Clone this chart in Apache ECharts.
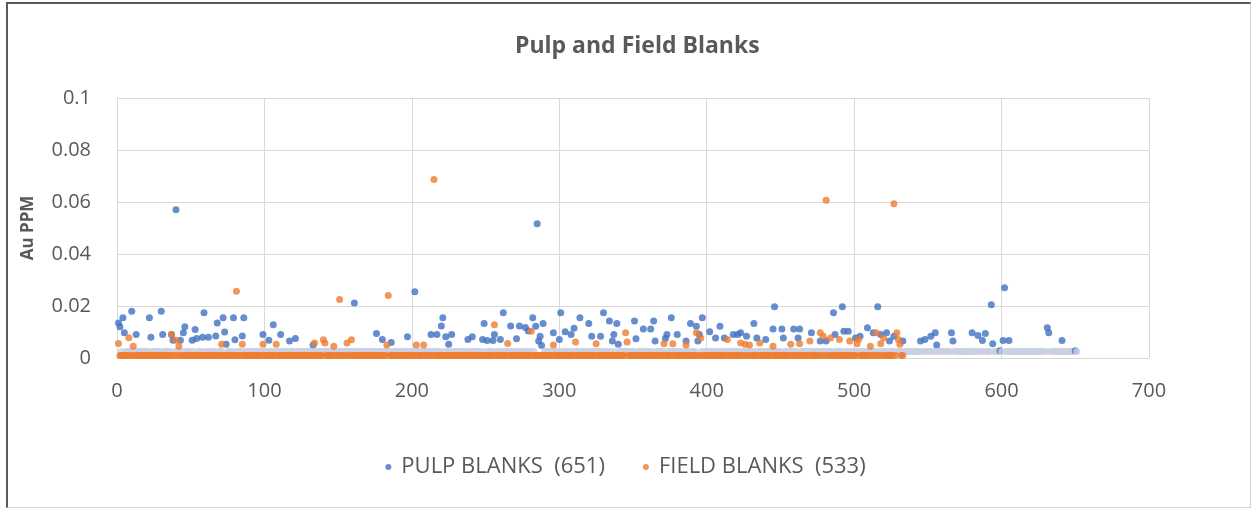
<!DOCTYPE html>
<html>
<head>
<meta charset="utf-8">
<script src="https://cdn.jsdelivr.net/npm/echarts@6/dist/echarts.min.js"></script>
<style>
  html, body { margin: 0; padding: 0; background: #ffffff; }
  #chart { position: absolute; left: 0; top: 0; width: 1251px; height: 508px; }
  #frame {
    position: absolute; left: 6px; top: 2px; width: 1242px; height: 503px;
    border-left: 2px solid #5a5a5a; border-top: 2px solid #5a5a5a;
    border-right: 1px solid #d4d4d4; border-bottom: 1px solid #d4d4d4;
    pointer-events: none;
  }
</style>
</head>
<body>
<div id="chart"></div>
<div id="frame"></div>
<script>
// Au assays (ppm) of pulp blanks, in submission order (sample 1..651)
const pulpAu = [
  .0135,.012,.0025,.0155,.0097,.0025,.0025,.0025,.0025,.018,.0025,.0025,.009,.0025,.0025,.0025,.0025,.0025,.0025,.0025,.0025,.0155,.008,.0025,.0025,
  .0025,.0025,.0025,.0025,.018,.009,.0025,.0025,.0025,.0025,.0025,.009,.0068,.0025,.057,.0025,.0025,.0068,.0025,.0097,.012,.0025,.0025,.0025,.0025,
  .0068,.0025,.011,.0075,.0025,.0025,.0025,.008,.0174,.0025,.0025,.008,.0025,.0025,.0025,.0025,.0085,.0135,.0025,.0025,.0025,.0155,.010,.0053,.0025,
  .0025,.0025,.0025,.0155,.007,.0025,.0025,.0025,.0025,.0085,.0155,.0025,.0025,.0025,.0025,.0025,.0025,.0025,.0025,.0025,.0025,.0025,.0025,.009,.0025,
  .0025,.0025,.0068,.0025,.0025,.0128,.0025,.0025,.0025,.0025,.009,.0025,.0025,.0025,.0025,.0025,.0065,.0025,.0025,.0025,.0075,.0025,.0025,.0025,.0025,
  .0025,.0025,.0025,.0025,.0025,.0025,.0025,.005,.0025,.0025,.0025,.0025,.0025,.0025,.0025,.0025,.0025,.0025,.0025,.0025,.0025,.0025,.0025,.0025,.0025,
  .0025,.0025,.0025,.0025,.0025,.0025,.0025,.0025,.0025,.0025,.0212,.0025,.0025,.0025,.0025,.0025,.0025,.0025,.0025,.0025,.0025,.0025,.0025,.0025,.0025,
  .0094,.0025,.0025,.0025,.0071,.0025,.0025,.0025,.0025,.0025,.006,.0025,.0025,.0025,.0025,.0025,.0025,.0025,.0025,.0025,.0025,.0082,.0025,.0025,.0025,
  .0025,.0255,.0025,.0025,.0025,.0025,.0025,.0025,.0025,.0025,.0025,.0025,.009,.0025,.0025,.0025,.009,.0025,.0025,.0123,.0155,.0025,.0082,.0025,.0053,
  .0025,.009,.0025,.0025,.0025,.0025,.0025,.0025,.0025,.0025,.0025,.0025,.0071,.0025,.0025,.0082,.0025,.0025,.0025,.0025,.0025,.0025,.0071,.0133,.0025,
  .0067,.0025,.0025,.0025,.0067,.009,.0025,.0025,.0025,.0071,.0025,.0174,.0025,.0025,.0025,.0025,.0123,.0025,.0025,.0025,.0074,.0025,.0123,.0025,.0025,
  .0025,.0117,.0025,.0104,.0025,.0025,.0155,.0025,.0122,.0516,.0065,.0084,.0048,.0133,.0025,.0025,.0025,.0025,.0025,.0025,.0097,.0025,.0025,.0025,.0071,
  .0174,.0025,.0025,.0101,.0025,.0025,.0025,.009,.0025,.0114,.0025,.0025,.0025,.0155,.0025,.0025,.0025,.0025,.0025,.0133,.0025,.0084,.0025,.0025,.0025,
  .0025,.0025,.0084,.0025,.0174,.0025,.0025,.0025,.0142,.0025,.0065,.009,.0025,.0133,.0053,.0025,.0025,.0025,.0025,.0025,.0025,.0025,.0025,.0025,.0025,
  .0142,.0074,.0025,.0025,.0025,.0025,.0112,.0025,.0025,.0025,.0025,.0112,.0025,.0142,.0065,.0025,.0025,.0025,.0025,.0025,.0025,.0075,.009,.0025,.0025,
  .0155,.0025,.0025,.0025,.009,.0025,.0025,.0025,.0025,.0025,.0065,.0025,.0025,.0133,.0025,.0025,.0025,.0122,.0065,.009,.0025,.0155,.0025,.0025,.0025,
  .0025,.0101,.0025,.0025,.0025,.0077,.0025,.0025,.0122,.0025,.0025,.0077,.0025,.0025,.0025,.0025,.0025,.009,.0025,.0025,.009,.0025,.0097,.0025,.0025,
  .0025,.0084,.0025,.0025,.0025,.0025,.0133,.0025,.0077,.0025,.0025,.0025,.0025,.0025,.0071,.0025,.0025,.0025,.0025,.0112,.0197,.0025,.0025,.0025,.0025,
  .0112,.0077,.0025,.0025,.0025,.0025,.0025,.0025,.0112,.0025,.0025,.0077,.0112,.0025,.0025,.0025,.0025,.0025,.0025,.0025,.0097,.0025,.0025,.0025,.0025,
  .0025,.0065,.0025,.0025,.0025,.0065,.0025,.0025,.0025,.0025,.0174,.009,.0025,.0025,.0025,.0025,.0197,.0103,.0025,.0025,.0103,.0025,.0025,.0025,.0025,
  .0077,.0025,.0025,.0084,.0025,.0025,.0025,.0025,.0116,.0025,.0025,.0025,.0097,.0025,.0025,.0197,.0025,.009,.0025,.0025,.0025,.0097,.0025,.0065,.0025,
  .0025,.0084,.0025,.0025,.0025,.0025,.0025,.0065,.0025,.0025,.0025,.0025,.0025,.0025,.0025,.0025,.0025,.0025,.0025,.0065,.0025,.0025,.0071,.0025,.0025,
  .0025,.0084,.0025,.0025,.0097,.005,.0025,.0025,.0025,.0025,.0025,.0025,.0025,.0025,.0025,.0097,.0065,.0025,.0025,.0025,.0025,.0025,.0025,.0025,.0025,
  .0025,.0025,.0025,.0025,.0097,.0025,.0025,.0025,.0087,.0025,.0025,.0067,.0025,.0094,.0025,.0025,.0025,.0205,.0055,.0025,.0025,.0025,.0025,.0028,.0025,
  .0067,.027,.0025,.0025,.0067,.0025,.0025,.0025,.0025,.0025,.0025,.0025,.0025,.0025,.0025,.0025,.0025,.0025,.0025,.0025,.0025,.0025,.0025,.0025,.0025,
  .0025,.0025,.0025,.0025,.0025,.0116,.0097,.0025,.0025,.0025,.0025,.0025,.0025,.0025,.0025,.0067,.0025,.0025,.0025,.0025,.0025,.0025,.0025,.0025,.0028,
  .0025
];

// Au assays (ppm) of field blanks, in submission order (sample 1..533)
const fieldAu = [
  .0056,.001,.001,.001,.001,.001,.001,.0078,.001,.001,.0045,.001,.001,.001,.001,.001,.001,.001,.001,.001,.001,.001,.001,.001,.001,
  .001,.001,.001,.001,.001,.001,.001,.001,.001,.001,.001,.009,.001,.001,.0068,.001,.0045,.001,.001,.001,.001,.001,.001,.001,.001,
  .001,.001,.001,.001,.001,.001,.001,.001,.001,.001,.001,.001,.001,.001,.001,.001,.001,.001,.001,.001,.0053,.001,.001,.001,.001,
  .001,.001,.001,.001,.001,.0257,.001,.001,.001,.0053,.001,.001,.001,.001,.001,.001,.001,.001,.001,.001,.001,.001,.001,.0053,.001,
  .001,.001,.001,.001,.001,.001,.001,.0053,.001,.001,.001,.001,.001,.001,.001,.001,.001,.001,.001,.001,.001,.001,.001,.001,.001,
  .001,.001,.001,.001,.001,.001,.001,.001,.0058,.001,.001,.001,.001,.001,.007,.0058,.001,.001,.001,.001,.001,.0045,.001,.001,.001,
  .0225,.001,.001,.001,.001,.0058,.001,.001,.007,.001,.001,.001,.001,.001,.001,.001,.001,.001,.001,.001,.001,.001,.001,.001,.001,
  .001,.001,.001,.001,.001,.001,.001,.005,.024,.001,.001,.001,.001,.001,.001,.001,.001,.001,.001,.001,.001,.001,.001,.001,.001,
  .001,.001,.005,.001,.001,.001,.001,.005,.001,.001,.001,.001,.001,.001,.0687,.001,.001,.001,.001,.001,.001,.001,.001,.001,.001,
  .001,.001,.001,.001,.001,.001,.001,.001,.001,.001,.001,.001,.001,.001,.001,.001,.001,.001,.001,.001,.001,.001,.001,.001,.001,
  .001,.001,.001,.001,.001,.0128,.001,.001,.001,.001,.001,.001,.001,.001,.0056,.001,.001,.001,.001,.001,.001,.001,.001,.001,.001,
  .001,.001,.001,.001,.001,.0103,.001,.001,.001,.001,.001,.001,.001,.001,.001,.001,.001,.001,.001,.001,.005,.001,.001,.001,.001,
  .001,.001,.001,.001,.001,.001,.001,.001,.001,.001,.0062,.001,.001,.001,.001,.001,.001,.001,.001,.001,.001,.001,.001,.001,.0055,
  .001,.001,.001,.001,.001,.001,.001,.001,.001,.001,.001,.001,.001,.001,.001,.001,.001,.001,.001,.0097,.0062,.001,.001,.001,.001,
  .001,.001,.001,.001,.001,.001,.001,.001,.001,.001,.001,.001,.001,.001,.001,.001,.001,.001,.001,.001,.0055,.001,.001,.001,.001,
  .001,.0055,.001,.001,.001,.001,.001,.001,.001,.001,.005,.001,.001,.001,.001,.001,.001,.0097,.001,.001,.0077,.001,.001,.001,.001,
  .001,.001,.001,.001,.001,.001,.001,.001,.001,.001,.001,.001,.001,.0071,.001,.001,.001,.001,.001,.001,.001,.001,.0058,.001,.001,
  .0053,.001,.001,.005,.001,.001,.001,.001,.001,.001,.0058,.001,.001,.001,.001,.001,.001,.001,.001,.0045,.001,.001,.001,.001,.001,
  .001,.001,.001,.001,.001,.001,.0053,.001,.001,.001,.001,.001,.0055,.001,.001,.001,.001,.001,.001,.0065,.001,.001,.001,.001,.001,
  .001,.0097,.001,.0084,.001,.0607,.001,.001,.0077,.001,.001,.001,.001,.001,.0071,.001,.001,.001,.001,.001,.001,.0065,.001,.001,.001,
  .001,.0055,.0071,.001,.001,.001,.001,.001,.001,.001,.0045,.001,.001,.001,.0097,.001,.001,.0055,.001,.0077,.001,.001,.001,.001,.001,
  .001,.0593,.001,.0097,.0071,.0053,.001,.001
];

const seriesNames = ['PULP BLANKS', 'FIELD BLANKS'];
const xTicks = { min: 0, max: 700, step: 100 };
const yTicks = { min: 0, max: 0.1, step: 0.02 };

const TEXT = '#595959';
const GRID = '#d9d9d9';
const BLUE = '#4070c0';
const ORANGE = '#ed7d31';
const FONT = '"Open Sans", "Noto Sans", sans-serif';

const toPoints = arr => arr.map((v, i) => [i + 1, v]);
const pulpName = seriesNames[0] + '  (' + pulpAu.length + ')';
const fieldName = seriesNames[1] + '  (' + fieldAu.length + ')';

const chart = echarts.init(document.getElementById('chart'), null, { renderer: 'canvas' });
chart.setOption({
  backgroundColor: '#ffffff',
  animation: false,
  title: {
    text: 'Pulp and Field Blanks',
    left: 510,
    top: 30,
    textStyle: { fontFamily: FONT, fontSize: 23, fontWeight: 'bold', color: TEXT }
  },
  legend: {
    top: 451,
    left: 'center',
    icon: 'circle',
    itemWidth: 6,
    itemHeight: 6,
    itemGap: 38,
    textStyle: { fontFamily: FONT, fontSize: 22, color: TEXT, padding: [0, 0, 0, 5] },
    data: [
      { name: pulpName, itemStyle: { color: BLUE } },
      { name: fieldName, itemStyle: { color: ORANGE } }
    ]
  },
  grid: { left: 117, right: 102, top: 98, bottom: 150, containLabel: false },
  xAxis: {
    type: 'value',
    min: xTicks.min, max: xTicks.max, interval: xTicks.step,
    axisLine: { show: true, lineStyle: { color: GRID } },
    axisTick: { show: false },
    splitLine: { show: true, lineStyle: { color: GRID, width: 1 } },
    axisLabel: { fontFamily: FONT, fontSize: 20, color: TEXT, margin: 23 }
  },
  yAxis: {
    type: 'value',
    min: yTicks.min, max: yTicks.max, interval: yTicks.step,
    name: 'Au PPM',
    nameLocation: 'middle',
    nameRotate: 90,
    nameGap: 80,
    nameTextStyle: { fontFamily: FONT, fontSize: 17, fontWeight: 'bold', color: TEXT },
    axisLine: { show: false },
    axisTick: { show: false },
    splitLine: { show: true, lineStyle: { color: GRID, width: 1 } },
    axisLabel: { fontFamily: FONT, fontSize: 20, color: TEXT, margin: 26 }
  },
  series: [
    {
      name: pulpName,
      type: 'scatter',
      symbol: 'circle',
      symbolSize: 7,
      data: toPoints(pulpAu),
      itemStyle: {
        // values at the detection floor render as a pale band
        color: p => (p.value[1] <= 0.0025 ? '#c9cfe2' : BLUE)
      },
      z: 2
    },
    {
      name: fieldName,
      type: 'scatter',
      symbol: 'circle',
      symbolSize: 7,
      data: toPoints(fieldAu),
      itemStyle: { color: ORANGE },
      z: 3
    }
  ]
});
</script>
</body>
</html>
